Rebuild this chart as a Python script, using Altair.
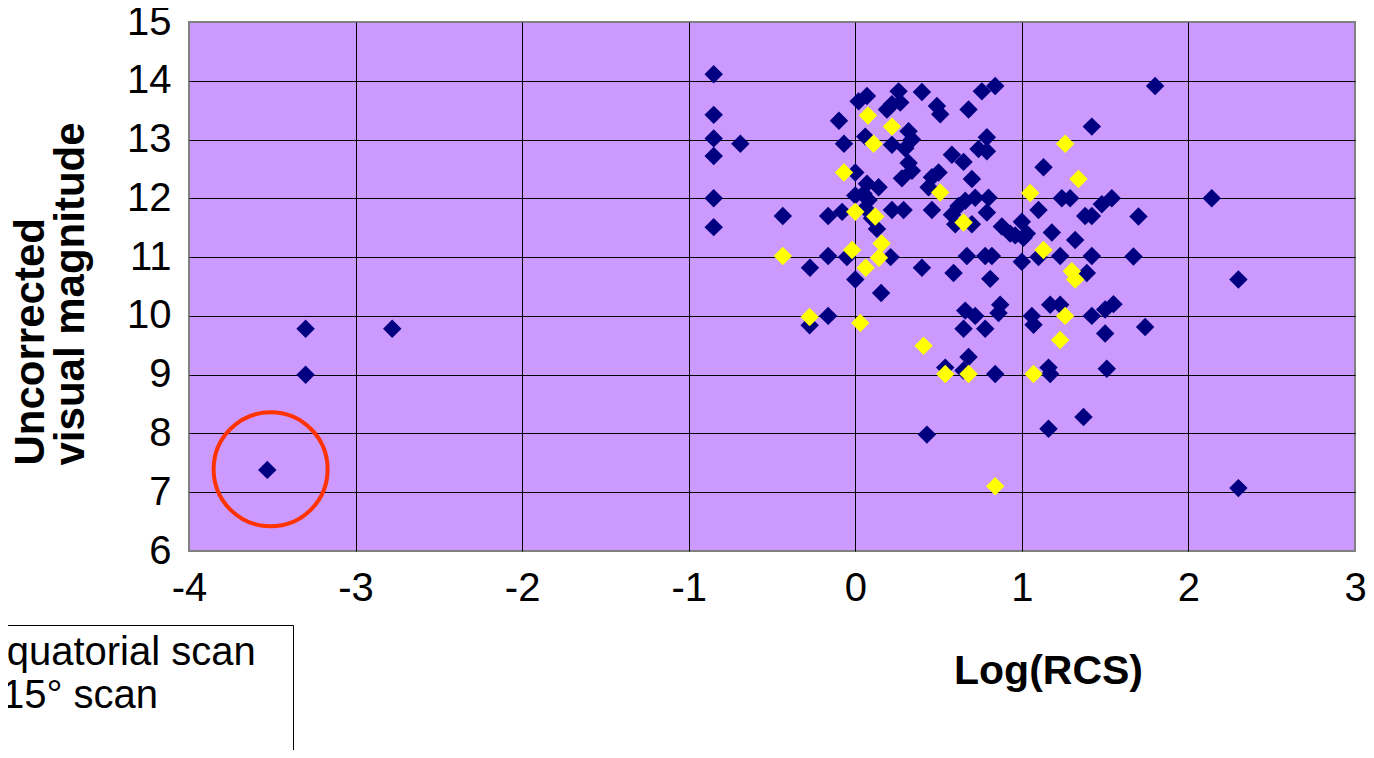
import altair as alt
import pandas as pd

FONT = "Liberation Sans"
NAVY = "#000080"
YELLOW = "#FFFF00"

series_names = ["Equatorial scan", "±15° scan"]

# Equatorial scan (navy diamonds)
eq_x = [-3.53, -3.30, -3.30, -2.78, -0.85, -0.85, -0.85, -0.85, -0.69, -0.85,
        -0.85, -0.435, -0.163, -0.098, -0.068, 0.00, -0.079, -0.163, -0.272, -0.05,
        0.212, 0.00, 0.155, -0.163, -0.274, 0.02, 0.07, 0.26, 0.40, 0.22,
        0.27, 0.19, 0.06, 0.22, 0.32, 0.34, 0.30, 0.32, 0.34, 0.28,
        0.07, 0.14, 0.00, 0.05, 0.08, 0.06, 0.10, 0.13, 0.22, 0.29,
        0.40, 0.49, 0.51, 0.68, 0.76, 0.84, 1.42, 0.79, 0.74, 0.79,
        0.58, 0.65, 0.70, 0.50, 0.46, 0.44, 0.46, 0.72, 0.66, 0.80,
        0.62, 0.79, 0.58, 0.60, 0.70, 1.13, 1.24, 1.29, 1.48, 1.54,
        1.38, 1.42, 1.70, 1.10, 0.88, 0.93, 1.00, 1.01, 1.03, 0.96,
        1.18, 1.32, 1.10, 1.23, 1.42, 1.67, 1.00, 1.39, 0.67, 0.78,
        0.82, 0.59, 0.81, 0.66, 0.72, 0.87, 0.86, 1.06, 1.17, 1.23,
        1.42, 1.50, 1.55, 1.07, 0.65, 0.78, 0.54, 0.68, 0.65, 0.84,
        1.16, 1.17, 1.50, 1.74, 1.51, 1.37, 1.16, 0.43, 1.80, 2.14,
        2.30, 2.30]
eq_y = [7.38, 9.78, 9.00, 9.78, 14.11, 13.42, 13.02, 12.72, 12.93, 12.00,
        11.51, 11.70, 11.70, 13.32, 12.93, 12.44, 11.77, 11.02, 10.82, 11.00,
        11.00, 10.62, 10.39, 10.00, 9.84, 13.65, 13.74, 13.82, 13.81, 13.60,
        13.63, 13.51, 13.05, 12.91, 13.14, 13.00, 12.85, 12.60, 12.47, 12.34,
        12.25, 12.19, 12.05, 12.08, 11.97, 11.83, 11.66, 11.48, 11.80, 11.80,
        10.82, 13.57, 13.43, 13.51, 13.82, 13.91, 13.22, 13.04, 12.84, 12.80,
        12.74, 12.62, 12.33, 12.44, 12.36, 12.19, 11.80, 12.01, 11.96, 12.01,
        11.87, 11.76, 11.72, 11.56, 11.56, 12.53, 12.00, 12.00, 11.90, 12.00,
        11.70, 11.70, 11.69, 11.80, 11.52, 11.40, 11.60, 11.33, 11.40, 11.37,
        11.42, 11.29, 11.00, 11.02, 11.02, 11.01, 10.92, 10.73, 11.02, 11.02,
        11.02, 10.73, 10.63, 10.09, 10.00, 10.19, 10.05, 10.00, 10.19, 10.19,
        10.00, 10.11, 10.20, 9.85, 9.78, 9.78, 9.12, 9.30, 9.07, 9.01,
        9.12, 9.01, 9.70, 9.81, 9.10, 8.28, 8.08, 7.98, 13.91, 12.00,
        10.62, 7.07]

# ±15° scan (yellow diamonds)
el_x = [-0.435, -0.068, 0.00, -0.019, 0.158, 0.142, 0.062, -0.274, 0.03, 0.076,
        0.22, 0.11, 0.12, 1.26, 0.51, 0.65, 1.05, 1.34, 1.13, 1.30,
        1.32, 0.41, 0.54, 0.68, 1.26, 1.23, 1.07, 0.84]
el_y = [11.02, 12.44, 11.77, 11.12, 11.23, 10.99, 10.82, 9.98, 9.88, 13.41,
        13.22, 12.93, 11.69, 12.93, 12.10, 11.59, 12.09, 12.33, 11.12, 10.76,
        10.62, 9.49, 9.01, 9.01, 10.00, 9.59, 9.01, 7.10]

# highlighted point (red ring)
ring_x = [-3.51]
ring_y = [7.39]

x_ticks = [-4, -3, -2, -1, 0, 1, 2, 3]
y_ticks = [6, 7, 8, 9, 10, 11, 12, 13, 14, 15]

rows = [{"x": a, "y": b, "series": series_names[0]} for a, b in zip(eq_x, eq_y)]
rows += [{"x": a, "y": b, "series": series_names[1]} for a, b in zip(el_x, el_y)]
df = pd.DataFrame(rows)
ring_df = pd.DataFrame({"x": ring_x, "y": ring_y})

NB = "\u00a0"
BLANK = "\u2800"

x_axis = alt.Axis(
    values=x_ticks, title="Log(RCS)", grid=True, gridColor="black", gridWidth=1,
    gridOpacity={"condition": {"test": "datum.value == -4 || datum.value == 3", "value": 0}, "value": 1},
    ticks=False, domain=False, labelFont=FONT, labelFontSize=40, labelColor="black",
    labelExpr="'' + datum.value",
    labelPadding=17, labelFlush=False, labelOverlap=False,
    titleFont=FONT, titleFontSize=41, titleFontWeight="bold", titleColor="black",
    titleX=859, titleY=132, titleBaseline="alphabetic",
)
y_axis = alt.Axis(
    values=y_ticks, title=["Uncorrected", "visual magnitude"], grid=True, gridColor="black", gridWidth=1,
    gridOpacity={"condition": {"test": "datum.value == 6 || datum.value == 15", "value": 0}, "value": 1},
    ticks=False, domain=False, labelFont=FONT, labelFontSize=40, labelColor="black",
    labelExpr="'' + datum.value",
    labelPadding=18, labelFlush=False, labelOverlap=False,
    titleFont=FONT, titleFontSize=42, titleFontWeight="bold", titleColor="black",
    titleX=-146, titleY=443, titleAlign="left", titleBaseline="alphabetic",
    titleLineHeight=40, titleAngle=270,
)

legend = alt.Legend(
    orient="none", legendX=-269, legendY=603, title=NB, titleOrient="bottom",
    titleFontSize=40, titleFont=FONT, titlePadding=4,
    fillColor="white", strokeColor="black", padding=8,
    symbolType="diamond", symbolSize=340, symbolStrokeWidth=0, symbolOpacity=1,
    labelFont=FONT, labelFontSize=40, labelColor="black", labelOffset=12, labelLimit=0,
    labelExpr="datum.label + '" + BLANK + "'", rowPadding=3,
)

points = alt.Chart(df).mark_point(
    shape="diamond", filled=True, size=340, opacity=1, strokeWidth=0
).encode(
    x=alt.X("x:Q", scale=alt.Scale(domain=[-4, 3], nice=False, zero=False), axis=x_axis),
    y=alt.Y("y:Q", scale=alt.Scale(domain=[6, 15], nice=False, zero=False), axis=y_axis),
    color=alt.Color("series:N", scale=alt.Scale(domain=series_names, range=[NAVY, YELLOW]),
                    legend=legend, sort=series_names),
)

ring = alt.Chart(ring_df).mark_point(
    shape="circle", filled=False, size=12996, stroke="#FF3300", strokeWidth=4, opacity=1
).encode(x="x:Q", y="y:Q")

chart = alt.layer(points, ring).properties(
    width=1166, height=529,
    padding={"left": 181, "top": 14, "right": 11, "bottom": 199},
    autosize=alt.AutoSizeParams(type="none"),
    background="white",
).configure_view(fill="#CC99FF", stroke="#808080", strokeWidth=2)

chart.save("out.html", embed_options={"renderer": "svg", "actions": False})
